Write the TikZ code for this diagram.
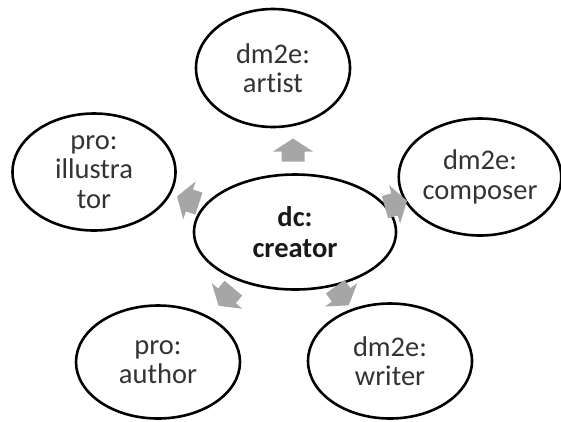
\documentclass[tikz,border=0pt]{standalone}
\usepackage{fontspec}
\setmainfont{Carlito}[Ligatures={NoCommon}]
\usetikzlibrary{shapes.geometric}
\definecolor{arrowgray}{HTML}{A6A6A6}
\definecolor{txtgray}{HTML}{333333}
\begin{document}
\begin{tikzpicture}[x=1pt,y=-1pt,
  sat/.style={ellipse, draw=black, line width=2.6pt, inner sep=0pt, align=center,
    font=\fontsize{28.5}{29.5}\selectfont, text=txtgray},
  hub/.style={sat, font=\fontsize{28.5}{31}\selectfont\bfseries, text=black!90},
  blockarrow/.pic={\fill[arrowgray] (-11.5,-11.5) -- (-1.5,-11.5) -- (-1.5,-20)
    -- (11.5,0) -- (-1.5,20) -- (-1.5,11.5) -- (-11.5,11.5) -- cycle;}]
\useasboundingbox (0,0) rectangle (561,421);
\node[hub, minimum width=202pt, minimum height=115pt] (c) at (295,232) {dc:\\creator};
\node[sat, minimum width=154pt, minimum height=118pt] (art) at (273,68) {dm2e:\\artist};
\node[sat, minimum width=163pt, minimum height=117pt] (ill) at (94,172) {pro:\\illustra\\tor};
\node[sat, minimum width=148pt, minimum height=117pt] (com) at (480,177) {dm2e:\\composer};
\node[sat, minimum width=164pt, minimum height=113pt] (aut) at (158,362) {pro:\\author};
\node[sat, minimum width=164pt, minimum height=115pt] (wri) at (390,361) {dm2e:\\writer};
\pic[rotate=90]   (a1) at (293,150) {blockarrow};
\pic[rotate=16]   (a2) at (396,204) {blockarrow};
\pic[rotate=-54]  (a3) at (342,296) {blockarrow};
\pic[rotate=-130] (a4) at (226,297) {blockarrow};
\pic[rotate=162]  (a5) at (188,200) {blockarrow};
\end{tikzpicture}
\end{document}
